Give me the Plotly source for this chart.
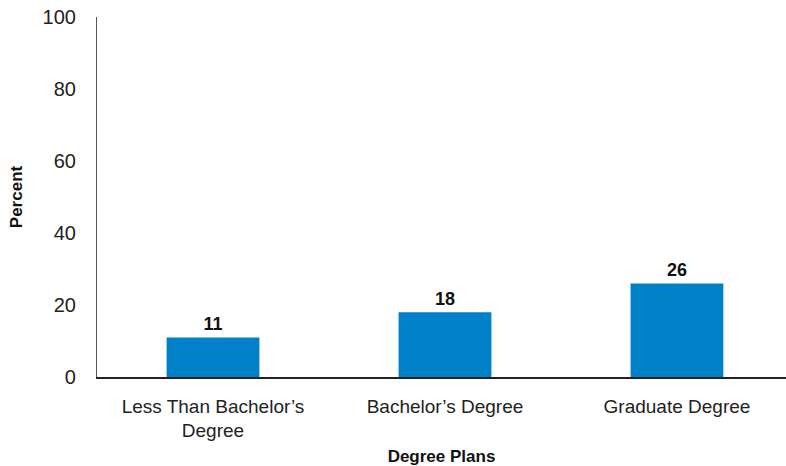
import plotly.graph_objects as go

categories = ["Less Than Bachelor’s<br>Degree", "Bachelor’s Degree", "Graduate Degree"]
values = [11, 18, 26]
y_ticks = [0, 20, 40, 60, 80, 100]

FONT = "Liberation Sans, Arial, sans-serif"

fig = go.Figure()
fig.add_trace(go.Bar(
    x=list(range(len(categories))),
    y=values,
    width=0.4,
    marker=dict(color="#0080C6", line=dict(width=0)),
    text=[str(v) for v in values],
    textposition="outside",
    textfont=dict(family=FONT, size=18, color="#111111", weight="bold"),
    cliponaxis=False,
    hoverinfo="skip",
))

fig.update_layout(
    width=786, height=466,
    margin=dict(l=97, r=0, t=17, b=89, autoexpand=False),
    paper_bgcolor="white", plot_bgcolor="white",
    showlegend=False,
    font=dict(family=FONT, color="#222222"),
    xaxis=dict(
        tickmode="array",
        tickvals=list(range(len(categories))),
        ticktext=categories,
        range=[-0.5, 2.47],
        automargin=False,
        showline=True, linecolor="#222222", linewidth=1.5,
        showgrid=False, zeroline=False,
        ticks="", tickfont=dict(size=19, color="#222222"),
        ticklabelstandoff=11,
        title=dict(text="<b>Degree Plans</b>", font=dict(size=17, color="#111111"), standoff=10),
    ),
    yaxis=dict(
        range=[0, 100],
        tickmode="array", tickvals=y_ticks,
        automargin=False,
        ticklabeloverflow="allow",
        showline=True, linecolor="#555555", linewidth=1.2,
        showgrid=False, zeroline=False,
        ticks="", tickfont=dict(size=20, color="#222222"),
        ticklabelstandoff=16,
        title=dict(text="<b>Percent</b>", font=dict(size=17, color="#111111"), standoff=15),
    ),
)

fig.write_html(
    "out.html",
    config={"displayModeBar": False},
    post_script="document.body.style.margin='0';document.body.style.overflow='hidden';",
)
